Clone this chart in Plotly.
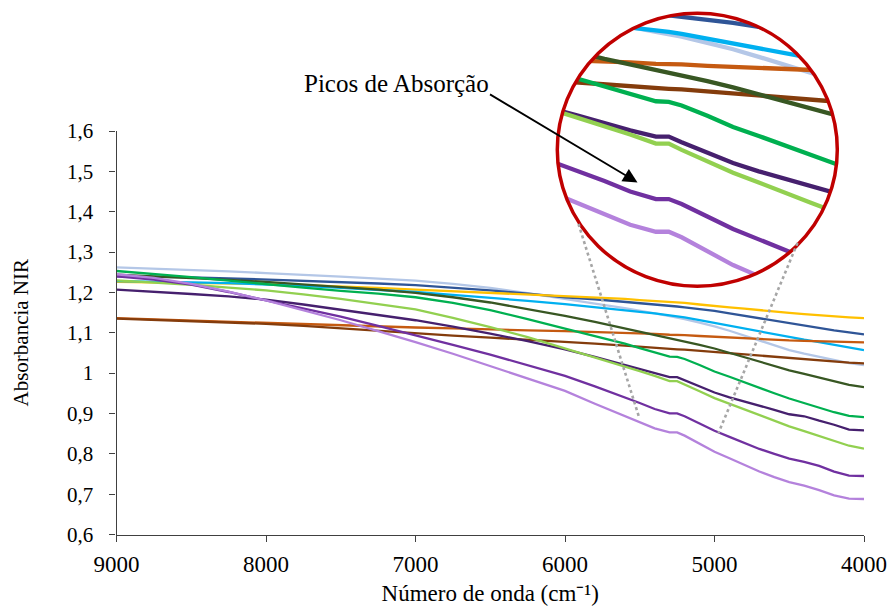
import numpy as np
import plotly.graph_objects as go

# ---------------- data ----------------
wavenumber = [9000, 8750, 8500, 8250, 8000, 7750, 7500, 7250, 7000, 6750, 6500, 6250, 6000,
              5800, 5600, 5500, 5400, 5300, 5250, 5200, 5100, 5000, 4900, 4800, 4700, 4600,
              4500, 4400, 4300, 4200, 4100, 4000]

light_blue = [1.262, 1.259, 1.256, 1.252, 1.248, 1.244, 1.239, 1.234, 1.229, 1.221, 1.211, 1.198, 1.183,
              1.172, 1.161, 1.155, 1.148, 1.141, 1.138, 1.134, 1.125, 1.116, 1.105, 1.093, 1.081, 1.069,
              1.057, 1.048, 1.040, 1.032, 1.025, 1.020]
dark_blue = [1.240, 1.239, 1.237, 1.235, 1.232, 1.229, 1.226, 1.222, 1.218, 1.212, 1.205, 1.197, 1.188,
             1.183, 1.177, 1.173, 1.170, 1.167, 1.165, 1.163, 1.159, 1.154, 1.148, 1.142, 1.136, 1.130,
             1.123, 1.118, 1.112, 1.106, 1.101, 1.096]
yellow = [1.226, 1.225, 1.224, 1.223, 1.221, 1.218, 1.215, 1.211, 1.207, 1.203, 1.199, 1.195, 1.191,
          1.187, 1.184, 1.181, 1.179, 1.176, 1.175, 1.174, 1.170, 1.166, 1.163, 1.160, 1.156, 1.153,
          1.149, 1.146, 1.143, 1.140, 1.138, 1.136]
sky_blue = [1.228, 1.227, 1.225, 1.223, 1.220, 1.216, 1.211, 1.206, 1.201, 1.194, 1.187, 1.179, 1.171,
            1.164, 1.156, 1.152, 1.148, 1.143, 1.141, 1.138, 1.131, 1.124, 1.117, 1.111, 1.104, 1.097,
            1.090, 1.083, 1.077, 1.070, 1.063, 1.057]
orange = [1.136, 1.133, 1.130, 1.127, 1.124, 1.121, 1.118, 1.116, 1.113, 1.111, 1.108, 1.106, 1.104,
          1.102, 1.100, 1.098, 1.097, 1.095, 1.095, 1.094, 1.092, 1.090, 1.088, 1.087, 1.085, 1.083,
          1.081, 1.080, 1.079, 1.078, 1.077, 1.076]
brown = [1.135, 1.132, 1.129, 1.126, 1.122, 1.117, 1.111, 1.104, 1.098, 1.093, 1.088, 1.083, 1.078,
         1.073, 1.068, 1.065, 1.063, 1.059, 1.059, 1.058, 1.055, 1.053, 1.050, 1.047, 1.044, 1.041,
         1.038, 1.035, 1.032, 1.029, 1.026, 1.024]
dark_green = [1.244, 1.240, 1.236, 1.231, 1.226, 1.220, 1.214, 1.207, 1.199, 1.188, 1.175, 1.159, 1.142,
              1.127, 1.111, 1.102, 1.094, 1.086, 1.083, 1.079, 1.070, 1.061, 1.050, 1.039, 1.029, 1.018,
              1.007, 0.998, 0.989, 0.980, 0.971, 0.965]
green = [1.253, 1.246, 1.238, 1.229, 1.220, 1.212, 1.204, 1.197, 1.188, 1.174, 1.156, 1.134, 1.110,
         1.092, 1.073, 1.062, 1.052, 1.041, 1.040, 1.035, 1.020, 1.004, 0.991, 0.977, 0.964, 0.950,
         0.937, 0.926, 0.914, 0.903, 0.894, 0.891]
dark_purple = [1.207, 1.202, 1.196, 1.190, 1.182, 1.170, 1.157, 1.144, 1.131, 1.115, 1.098, 1.079, 1.059,
               1.040, 1.020, 1.009, 0.999, 0.990, 0.990, 0.982, 0.967, 0.952, 0.940, 0.930, 0.920, 0.909,
               0.898, 0.893, 0.882, 0.872, 0.860, 0.858]
light_green = [1.230, 1.225, 1.219, 1.212, 1.205, 1.195, 1.184, 1.171, 1.158, 1.137, 1.114, 1.089, 1.061,
               1.040, 1.017, 1.005, 0.993, 0.980, 0.980, 0.971, 0.955, 0.938, 0.924, 0.909, 0.895, 0.881,
               0.868, 0.856, 0.844, 0.832, 0.820, 0.813]
purple = [1.240, 1.232, 1.219, 1.201, 1.180, 1.160, 1.140, 1.117, 1.094, 1.070, 1.046, 1.020, 0.993,
          0.967, 0.940, 0.926, 0.911, 0.900, 0.900, 0.893, 0.875, 0.857, 0.842, 0.827, 0.812, 0.800,
          0.788, 0.780, 0.770, 0.756, 0.746, 0.745]
light_purple = [1.245, 1.236, 1.221, 1.202, 1.180, 1.156, 1.131, 1.104, 1.077, 1.048, 1.018, 0.987, 0.956,
                0.924, 0.893, 0.879, 0.863, 0.853, 0.853, 0.845, 0.825, 0.805, 0.789, 0.772, 0.756, 0.742,
                0.730, 0.721, 0.710, 0.697, 0.689, 0.688]

series = [
    ("light_blue", light_blue, "#B4C7E7"),
    ("dark_blue", dark_blue, "#2F5597"),
    ("yellow", yellow, "#FFC000"),
    ("sky_blue", sky_blue, "#00B0F0"),
    ("orange", orange, "#C55A11"),
    ("brown", brown, "#843C0C"),
    ("dark_green", dark_green, "#385723"),
    ("green", green, "#00B050"),
    ("dark_purple", dark_purple, "#46206E"),
    ("light_green", light_green, "#92D050"),
    ("purple", purple, "#7030A0"),
    ("light_purple", light_purple, "#B482DC"),
]

x_tickvals = [9000, 8000, 7000, 6000, 5000, 4000]
x_ticktext = ["9000", "8000", "7000", "6000", "5000", "4000"]
y_tickvals = [0.6, 0.7, 0.8, 0.9, 1.0, 1.1, 1.2, 1.3, 1.4, 1.5, 1.6]
y_ticktext = ["0,6", "0,7", "0,8", "0,9", "1", "1,1", "1,2", "1,3", "1,4", "1,5", "1,6"]

x_title = "Número de onda (cm⁻¹)"
y_title = "Absorbancia NIR"
annotation_text = "Picos de Absorção"

# ---------------- layout helpers (pixels -> paper) ----------------
W, H = 888, 607
def px(x):
    return x / W
def py(y):
    return 1 - y / H

FONT = "Liberation Serif, Times New Roman, serif"

fig = go.Figure()

# main chart traces
for name, vals, col in series:
    fig.add_trace(go.Scatter(x=wavenumber, y=vals, mode="lines", name=name,
                             line=dict(color=col, width=2.3), xaxis="x", yaxis="y",
                             hoverinfo="skip"))

# magnified inset traces
for name, vals, col in series:
    fig.add_trace(go.Scatter(x=wavenumber, y=vals, mode="lines", name=name + "_zoom",
                             line=dict(color=col, width=4.3), xaxis="x2", yaxis="y2",
                             hoverinfo="skip", showlegend=False))

# inset circle geometry (pixels)
cx, cy, rx, ry = 697.3, 149.7, 140.0, 136.5

# mask: square minus ellipse, to clip the inset traces to the circle
pad = 4
sq = [(cx - rx - pad, cy - ry - pad), (cx + rx + pad, cy - ry - pad),
      (cx + rx + pad, cy + ry + pad), (cx - rx - pad, cy + ry + pad)]
path = "M " + " L ".join(f"{px(a):.5f},{py(b):.5f}" for a, b in sq) + " Z"
angles = np.linspace(0, -2 * np.pi, 181)
circ = [(cx + (rx - 0.5) * np.cos(t), cy + (ry - 0.5) * np.sin(t)) for t in angles]
path += " M " + " L ".join(f"{px(a):.5f},{py(b):.5f}" for a, b in circ) + " Z"

shapes = [
    dict(type="path", path=path, xref="paper", yref="paper", fillcolor="white",
         line=dict(width=0), layer="above", fillrule="evenodd"),
    dict(type="circle", xref="paper", yref="paper",
         x0=px(cx - rx), x1=px(cx + rx), y0=py(cy + ry), y1=py(cy - ry),
         line=dict(color="#C00000", width=3.5), layer="above"),
    dict(type="line", xref="paper", yref="paper",
         x0=px(578.5), y0=py(224), x1=px(639), y1=py(417),
         line=dict(color="#A6A6A6", width=2.6, dash="dot"), layer="above"),
    dict(type="line", xref="paper", yref="paper",
         x0=px(797.5), y0=py(243), x1=px(718.5), y1=py(433),
         line=dict(color="#A6A6A6", width=2.6, dash="dot"), layer="above"),
]

# inset scale
mag = 1.72
main_x0, main_x1 = 116.5, 864.0
wn_per_px = 5000 / (main_x1 - main_x0)
val_per_px = 1.0 / 403.5
c_wn = 5139
c_val = 0.9712
inset_xrange = [c_wn + rx / mag * wn_per_px, c_wn - rx / mag * wn_per_px]
inset_yrange = [c_val - ry / mag * val_per_px, c_val + ry / mag * val_per_px]

fig.update_layout(
    width=W, height=H,
    margin=dict(l=0, r=0, t=0, b=0),
    paper_bgcolor="white", plot_bgcolor="rgba(0,0,0,0)",
    showlegend=False,
    font=dict(family=FONT, size=21, color="#000000"),
    xaxis=dict(domain=[px(main_x0), px(main_x1)], range=[9000, 4000],
               tickvals=x_tickvals, ticktext=x_ticktext,
               tickfont=dict(family=FONT, size=23, color="#000000"),
               showgrid=False, zeroline=False, showline=True, linecolor="#404040", linewidth=1.3,
               ticks="outside", ticklen=6, tickcolor="#404040", tickwidth=1.3,
               ticklabelstandoff=3, anchor="y",
               title=dict(text=x_title, font=dict(family=FONT, size=23, color="#000000"), standoff=8),
               automargin=False),
    yaxis=dict(domain=[py(534.5), py(131)], range=[0.6, 1.6],
               tickvals=y_tickvals, ticktext=y_ticktext,
               tickfont=dict(family=FONT, size=21, color="#000000"),
               showgrid=False, zeroline=False, showline=True, linecolor="#404040", linewidth=1.3,
               ticks="outside", ticklen=6, tickcolor="#404040", tickwidth=1.3,
               ticklabelstandoff=12, anchor="x",
               title=dict(text=y_title, font=dict(family=FONT, size=21, color="#000000"), standoff=32),
               automargin=False),
    xaxis2=dict(domain=[px(cx - rx), px(cx + rx)], range=inset_xrange, visible=False,
                anchor="y2", fixedrange=True),
    yaxis2=dict(domain=[py(cy + ry), py(cy - ry)], range=inset_yrange, visible=False,
                anchor="x2", fixedrange=True),
    shapes=shapes,
    annotations=[
        dict(text=annotation_text, xref="paper", yref="paper", x=px(396), y=py(83),
             showarrow=False, font=dict(family=FONT, size=25, color="#000000"),
             xanchor="center", yanchor="middle"),
        dict(text="", xref="paper", yref="paper", x=px(637.5), y=py(182.5),
             ax=488.5 - 637.5, ay=93.5 - 182.5, showarrow=True,
             arrowhead=2, arrowsize=1.6, arrowwidth=1.8, arrowcolor="#000000"),
    ],
)

fig.write_html("out.html", config={"displayModeBar": False},
               post_script="document.body.style.margin='0px';document.body.style.overflow='hidden';")
